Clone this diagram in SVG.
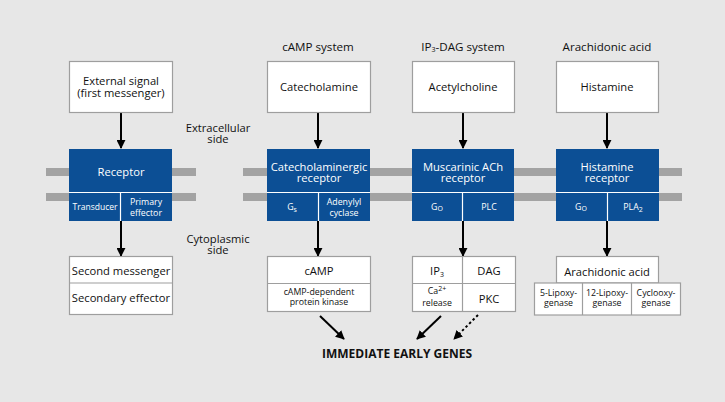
<svg xmlns="http://www.w3.org/2000/svg" width="725" height="402" viewBox="0 0 725 402">
<defs>
<marker id="ah" viewBox="0 0 10 10" refX="9" refY="5" markerWidth="4.5" markerHeight="4.5" orient="auto" markerUnits="strokeWidth">
<path d="M0,0 L10,5 L0,10 z" fill="#000"/>
</marker>
<style>
text{font-family:"Open Sans","Noto Sans","DejaVu Sans",sans-serif;text-anchor:middle;dominant-baseline:central;fill:#111}
.t{font-size:11.2px}
.h{font-size:11.6px}
.s{font-size:8.8px}
.w{fill:#fff}
.wb{fill:#fff;stroke:#9e9e9e;stroke-width:1.2}
.bl{fill:#0c4f95}
.bar{fill:#a3a3a3}
.ln{stroke:#fff;stroke-width:1.2}
.gl{stroke:#9e9e9e;stroke-width:1.2}
.ar{stroke:#000;stroke-width:2;fill:none;marker-end:url(#ah)}
.dot{stroke:#000;stroke-width:2;fill:none;stroke-dasharray:2.5 2.5;marker-end:url(#ah)}
.sub{font-size:7px}
</style>
</defs>
<rect width="725" height="402" fill="#e7e7e7"/>

<g id="membrane">
<rect class="bar" x="46" y="168" width="150" height="8"/>
<rect class="bar" x="46" y="193" width="150" height="8"/>
<rect class="bar" x="243" y="168" width="439" height="8"/>
<rect class="bar" x="243" y="193" width="439" height="8"/>
</g>

<g id="labels">
<text class="h" x="318" y="46">cAMP system</text>
<text class="h" x="463" y="46">IP<tspan class="sub" dy="3">3</tspan><tspan dy="-3">-DAG system</tspan></text>
<text class="h" x="607" y="46">Arachidonic acid</text>
<text class="t" x="218" y="127">Extracellular</text>
<text class="t" x="218" y="138">side</text>
<text class="t" x="218" y="238">Cytoplasmic</text>
<text class="t" x="218" y="249">side</text>
<text x="397" y="353" style="font-size:12px;font-weight:bold">IMMEDIATE EARLY GENES</text>
</g>

<g id="connectors">
<line class="ar" x1="121" y1="113" x2="121" y2="148"/>
<line class="ar" x1="121" y1="221" x2="121" y2="256"/>
<line class="ar" x1="318" y1="113" x2="318" y2="148"/>
<line class="ar" x1="318" y1="221" x2="318" y2="256"/>
<line class="ar" x1="463" y1="113" x2="463" y2="148"/>
<line class="ar" x1="463" y1="221" x2="463" y2="256"/>
<line class="ar" x1="607" y1="113" x2="607" y2="148"/>
<line class="ar" x1="607" y1="221" x2="607" y2="256"/>
<line class="ar" x1="320" y1="316" x2="344" y2="339"/>
<line class="ar" x1="441" y1="316" x2="417" y2="339"/>
<line class="dot" x1="478" y1="315" x2="454" y2="339"/>
</g>

<g id="n-external">
<rect class="wb" x="69.5" y="61.5" width="103" height="51"/>
<text class="t" x="121" y="80">External signal</text>
<text class="t" x="121" y="92">(first messenger)</text>
</g>
<g id="n-catecholamine">
<rect class="wb" x="267.5" y="61.5" width="103" height="51"/>
<text class="t" x="319" y="86">Catecholamine</text>
</g>
<g id="n-acetylcholine">
<rect class="wb" x="412.5" y="61.5" width="102" height="51"/>
<text class="t" x="463" y="86">Acetylcholine</text>
</g>
<g id="n-histamine">
<rect class="wb" x="556.5" y="61.5" width="102" height="51"/>
<text class="t" x="607" y="86">Histamine</text>
</g>

<g id="n-receptor">
<rect class="bl" x="69" y="149" width="103" height="72"/>
<line class="ln" x1="69" y1="192.5" x2="172" y2="192.5"/>
<line class="ln" x1="120.5" y1="192.5" x2="120.5" y2="221"/>
<text class="t w" x="121" y="171">Receptor</text>
<text class="s w" x="95" y="207" textLength="45" lengthAdjust="spacingAndGlyphs">Transducer</text>
<text class="s w" x="146" y="201.5">Primary</text>
<text class="s w" x="146" y="212.5">effector</text>
</g>
<g id="n-cat-receptor">
<rect class="bl" x="267" y="149" width="103" height="72"/>
<line class="ln" x1="267" y1="192.5" x2="370" y2="192.5"/>
<line class="ln" x1="318.5" y1="192.5" x2="318.5" y2="221"/>
<text class="t w" x="319" y="166">Catecholaminergic</text>
<text class="t w" x="319" y="177">receptor</text>
<text class="s w" x="292" y="207">G<tspan class="sub" dy="2">s</tspan></text>
<text class="s w" x="344" y="201.5">Adenylyl</text>
<text class="s w" x="344" y="212.5">cyclase</text>
</g>
<g id="n-musc-receptor">
<rect class="bl" x="412" y="149" width="102" height="72"/>
<line class="ln" x1="412" y1="192.5" x2="514" y2="192.5"/>
<line class="ln" x1="462.5" y1="192.5" x2="462.5" y2="221"/>
<text class="t w" x="463" y="166">Muscarinic ACh</text>
<text class="t w" x="463" y="177">receptor</text>
<text class="s w" x="437" y="207">G<tspan class="sub" dy="1">O</tspan></text>
<text class="s w" x="489" y="207">PLC</text>
</g>
<g id="n-hist-receptor">
<rect class="bl" x="556" y="149" width="103" height="72"/>
<line class="ln" x1="556" y1="192.5" x2="659" y2="192.5"/>
<line class="ln" x1="607.5" y1="192.5" x2="607.5" y2="221"/>
<text class="t w" x="607" y="166">Histamine</text>
<text class="t w" x="607" y="177">receptor</text>
<text class="s w" x="581" y="207">G<tspan class="sub" dy="1">O</tspan></text>
<text class="s w" x="633" y="207">PLA<tspan class="sub" dy="2">2</tspan></text>
</g>

<g id="n-second">
<rect class="wb" x="69.5" y="256.5" width="103" height="58"/>
<line class="gl" x1="69.5" y1="283" x2="172.5" y2="283"/>
<text class="t" x="121" y="270">Second messenger</text>
<text class="t" x="121" y="297">Secondary effector</text>
</g>
<g id="n-camp">
<rect class="wb" x="267.5" y="256.5" width="103" height="55"/>
<line class="gl" x1="267.5" y1="283.5" x2="370.5" y2="283.5"/>
<text class="t" x="319" y="270.5">cAMP</text>
<text class="s" x="319" y="291.5">cAMP-dependent</text>
<text class="s" x="319" y="302">protein kinase</text>
</g>
<g id="n-ip3dag">
<rect class="wb" x="412.5" y="256.5" width="103" height="55"/>
<line class="gl" x1="412.5" y1="283.5" x2="515.5" y2="283.5"/>
<line class="gl" x1="462.5" y1="256.5" x2="462.5" y2="311.5"/>
<text class="t" x="437" y="270.5">IP<tspan class="sub" dy="3">3</tspan></text>
<text class="t" x="489" y="270.5">DAG</text>
<text class="s" x="437" y="291">Ca<tspan class="sub" dy="-3">2+</tspan></text>
<text class="s" x="437" y="303">release</text>
<text class="t" x="489" y="298">PKC</text>
</g>
<g id="n-arachidonic">
<rect class="wb" x="556.5" y="256.5" width="102" height="26.5"/>
<rect class="wb" x="534.5" y="283" width="146" height="32"/>
<line class="gl" x1="582.5" y1="283" x2="582.5" y2="315"/>
<line class="gl" x1="631.5" y1="283" x2="631.5" y2="315"/>
<text class="t" x="607" y="271">Arachidonic acid</text>
<text class="s" x="558.5" y="292.5">5-Lipoxy-</text>
<text class="s" x="558.5" y="303">genase</text>
<text class="s" x="607" y="292.5">12-Lipoxy-</text>
<text class="s" x="607" y="303">genase</text>
<text class="s" x="656" y="292.5">Cyclooxy-</text>
<text class="s" x="656" y="303">genase</text>
</g>
</svg>
